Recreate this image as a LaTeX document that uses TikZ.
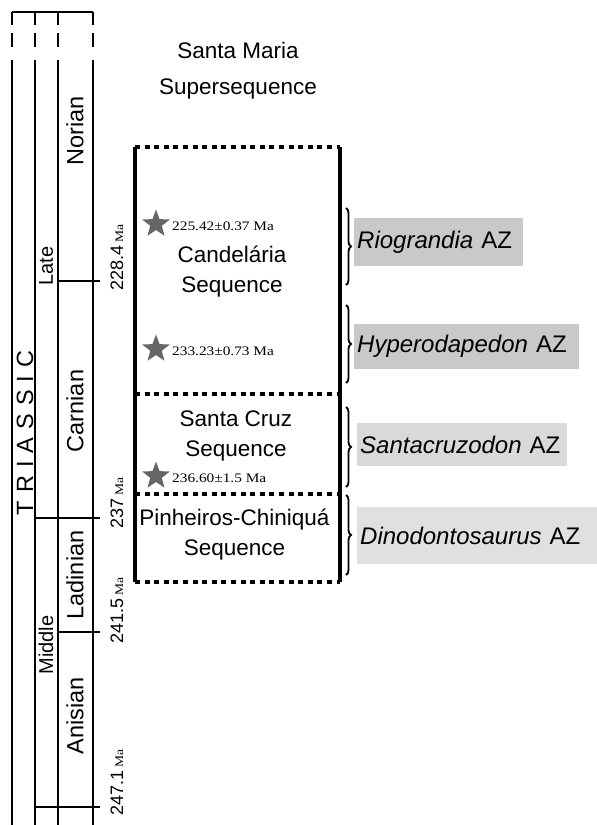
\documentclass[tikz,border=0pt]{standalone}
\usepackage{fontspec}
\setmainfont{Liberation Sans}
\newfontfamily\timeswide[FakeStretch=1.18]{Liberation Serif}
\usetikzlibrary{shapes.geometric,decorations.pathreplacing}

\tikzset{
  colline/.style={line width=1.4pt},
  boxline/.style={line width=4pt},
  dotline/.style={line width=4pt, dash pattern=on 5pt off 4.6pt},
  stage/.style={rotate=90, font=\fontsize{23.5}{23.5}\selectfont},
  epoch/.style={rotate=90, font=\fontsize{20}{20}\selectfont},
  agelabel/.style={rotate=90, anchor=west, inner sep=0pt, font=\fontsize{18}{18}\selectfont},
  seqtext/.style={align=center, font=\fontsize{22.5}{30}\selectfont},
  azbox/.style={fill=#1, inner xsep=3pt, inner ysep=0pt, anchor=west, align=left, font=\fontsize{24}{24}\selectfont},
  agestar/.style={star, star points=5, star point ratio=2.4, fill=black!60, minimum size=29pt, inner sep=0pt},
  datetext/.style={anchor=west, inner sep=0pt, font=\timeswide\fontsize{13}{13}\selectfont},
  zonebrace/.style={decorate, decoration={brace, amplitude=5pt}, line width=1.8pt}
}
\newcommand{\maunit}{{\timeswide\fontsize{11.5}{11.5}\selectfont\ Ma}}

\begin{document}
\begin{tikzpicture}[x=1pt, y=-1pt]
	\useasboundingbox (0,0) rectangle (597,825);

	\coordinate (c1top) at (12, 12);
	\coordinate (c4top) at (93, 12);
	\draw[colline] (c1top) -- (c4top);
	\foreach \cx in {12, 35, 58, 93} {
		\draw[colline] (\cx, 12) -- (\cx, 25);
		\draw[colline] (\cx, 33) -- (\cx, 47);
		\draw[colline] (\cx, 60) -- (\cx, 825);
	}

	\coordinate (t1a) at (58, 281);  \coordinate (t1b) at (100, 281);
	\coordinate (t2a) at (35, 518);  \coordinate (t2b) at (100, 518);
	\coordinate (t3a) at (58, 632);  \coordinate (t3b) at (100, 632);
	\coordinate (t4a) at (35, 807);  \coordinate (t4b) at (100, 807);
	\draw[colline] (t1a) -- (t1b);
	\draw[colline] (t2a) -- (t2b);
	\draw[colline] (t3a) -- (t3b);
	\draw[colline] (t4a) -- (t4b);

	\node[agelabel] (a1) at (117, 291) {228.4\maunit};
	\node[agelabel] (a2) at (117, 529) {237\maunit};
	\node[agelabel] (a3) at (117, 644) {241.5\maunit};
	\node[agelabel] (a4) at (117, 816) {247.1\maunit};

	\node[stage] (tri) at (25, 433) {T\hspace{8pt}R\hspace{8pt}I\hspace{8pt}A\hspace{8pt}S\hspace{8pt}S\hspace{8pt}I\hspace{8pt}C};
	\node[epoch] (late) at (46, 266) {Late};
	\node[epoch] (mid) at (46, 645) {Middle};
	\node[stage] (nor) at (75, 131) {Norian};
	\node[stage] (car) at (75, 411) {Carnian};
	\node[stage] (lad) at (75, 575) {Ladinian};
	\node[stage] (ani) at (75, 716) {Anisian};

	\node[seqtext, font=\fontsize{22.5}{36}\selectfont] (ssq) at (238, 71) {Santa Maria\\Supersequence};

	\coordinate (bl1) at (135, 147);  \coordinate (br1) at (340, 147);
	\coordinate (bl2) at (135, 394);  \coordinate (br2) at (340, 394);
	\coordinate (bl3) at (135, 494);  \coordinate (br3) at (340, 494);
	\coordinate (bl4) at (135, 582);  \coordinate (br4) at (340, 582);
	\draw[boxline] (bl1) -- (bl4);
	\draw[boxline] (br1) -- (br4);
	\draw[dotline] (bl1) -- (br1);
	\draw[dotline] (bl2) -- (br2);
	\draw[dotline] (bl3) -- (br3);
	\draw[dotline] (bl4) -- (br4);

	\node[seqtext] (cand) at (232, 272) {Candelária\\Sequence};
	\node[seqtext] (scruz) at (236, 436) {Santa Cruz\\Sequence};
	\node[seqtext] (pinh) at (234.5, 535) {Pinheiros-Chiniquá\\Sequence};

	\node[agestar] (s1) at (156, 224) {};
	\node[agestar] (s2) at (156, 349) {};
	\node[agestar] (s3) at (156, 476) {};
	\node[datetext] (d1) at (172, 226) {225.42±0.37 Ma};
	\node[datetext] (d2) at (172, 351) {233.23±0.73 Ma};
	\node[datetext] (d3) at (172, 478) {236.60±1.5 Ma};

	\coordinate (z1a) at (346, 208);  \coordinate (z1b) at (346, 285);
	\coordinate (z2a) at (346, 305);  \coordinate (z2b) at (346, 383);
	\coordinate (z3a) at (346, 407);  \coordinate (z3b) at (346, 487);
	\coordinate (z4a) at (346, 495);  \coordinate (z4b) at (346, 575);
	\draw[zonebrace] (z1a) -- (z1b);
	\draw[zonebrace] (z2a) -- (z2b);
	\draw[zonebrace] (z3a) -- (z3b);
	\draw[zonebrace] (z4a) -- (z4b);

	\node[azbox=black!21, minimum height=48pt, text width=163pt] (rio) at (354, 242) {\textit{Riograndia} AZ};
	\node[azbox=black!21, minimum height=45pt, text width=219pt] (hyp) at (354, 346.5) {\textit{Hyperodapedon} AZ};
	\node[azbox=black!15, minimum height=43pt, text width=204pt] (san) at (357, 444.5) {\textit{Santacruzodon} AZ};
	\node[azbox=black!12, minimum height=57pt, text width=234pt] (din) at (357, 535.5) {\textit{Dinodontosaurus} AZ};
\end{tikzpicture}
\end{document}
